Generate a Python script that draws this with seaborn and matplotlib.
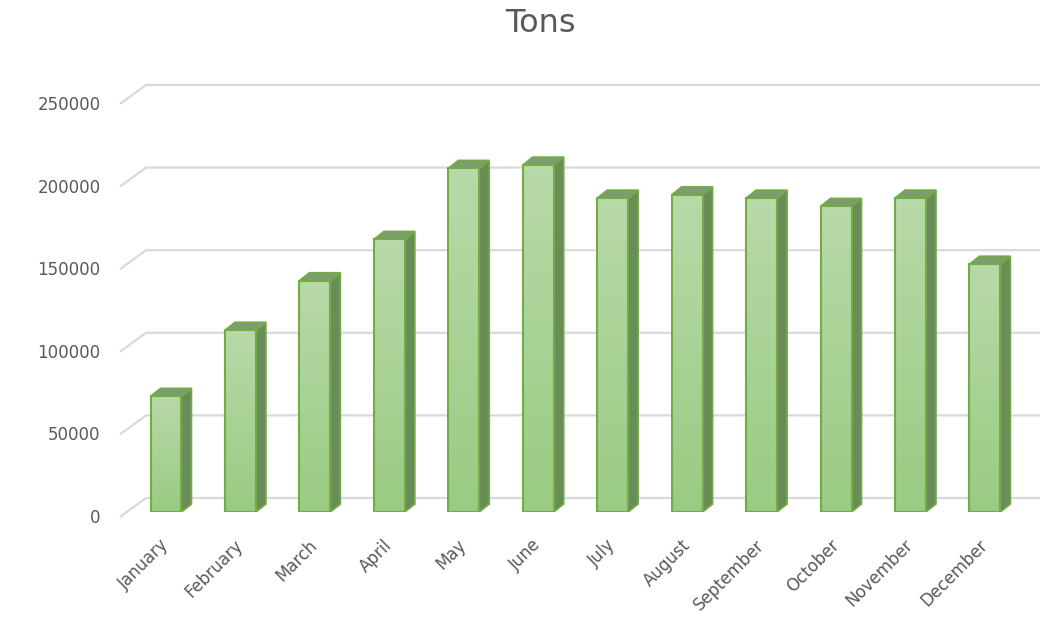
import numpy as np
import pandas as pd
import seaborn as sns
import matplotlib.pyplot as plt
import matplotlib.transforms as mtransforms
from matplotlib.patches import Polygon
from matplotlib.colors import LinearSegmentedColormap

# data
months = ['January', 'February', 'March', 'April', 'May', 'June', 'July',
          'August', 'September', 'October', 'November', 'December']
tons = [70000, 110000, 140000, 165000, 208000, 210000, 190000,
        192000, 190000, 185000, 190000, 150000]
yticks = [0, 50000, 100000, 150000, 200000, 250000]

df = pd.DataFrame({'month': months, 'tons': tons})

sns.set_style('white')
plt.rcParams['font.family'] = ['DejaVu Sans']
text_col = '#595959'

W, H = 1048, 624
fig = plt.figure(figsize=(W / 100, H / 100), dpi=100)
# axes in pixel geometry of the reference
left_px, right_px, top_px, base_px = 120, 1040, 80, 512
ax = fig.add_axes([left_px / W, (H - base_px) / H,
                   (right_px - left_px) / W, (base_px - top_px) / H])

step_px = 74.45          # pixels between categories
first_px = 166           # centre of the first bar
xlim = ((left_px - first_px) / step_px, (right_px - first_px) / step_px)
val_per_px = 50000 / 82.6
ylim = (0, (base_px - top_px) * val_per_px)

def px_x(p):
    return p / step_px

def px_y(p):
    return p * val_per_px

sns.barplot(data=df, x='month', y='tons', width=0.416, color='#a9d18e',
            edgecolor='#70ad47', linewidth=1.5, ax=ax, zorder=3)

# back-plane gridlines with the diagonal front edge
grid_col = '#d9d9d9'
for v in yticks:
    xs = [xlim[0], xlim[0] + px_x(26), xlim[1]]
    ys = [v - px_y(5), v + px_y(14), v + px_y(14)]
    ax.plot(xs, ys, color=grid_col, lw=1.6, zorder=1, clip_on=False,
            solid_capstyle='butt')

# gradient on the front faces, plus the 3D side and top
grad = LinearSegmentedColormap.from_list('g', ['#9bcb83', '#b8d9a8'])
ddx, ddy = px_x(10), px_y(8)
for p in ax.patches:
    x0, w, h = p.get_x(), p.get_width(), p.get_height()
    x1 = x0 + w
    img = ax.imshow(np.linspace(0, 1, 100).reshape(-1, 1), cmap=grad,
                    origin='lower', extent=[x0, x1, 0, h], aspect='auto',
                    zorder=3)
    img.set_clip_path(p)
    p.set_facecolor('none')
    p.set_zorder(4)
    side = Polygon([(x1, 0), (x1 + ddx, ddy), (x1 + ddx, h + ddy), (x1, h)],
                   closed=True, facecolor='#6a8c58', edgecolor='#70ad47',
                   lw=1.2, zorder=2.5)
    top = Polygon([(x0, h), (x0 + ddx, h + ddy), (x1 + ddx, h + ddy), (x1, h)],
                  closed=True, facecolor='#7e9c6e', edgecolor='#70ad47',
                  lw=1.2, zorder=2.6)
    ax.add_patch(side)
    ax.add_patch(top)

ax.set_xlim(*xlim)
ax.set_ylim(*ylim)
ax.set_yticks(yticks)
ax.set_yticklabels([str(v) for v in yticks])
ax.tick_params(axis='y', length=0, pad=14, labelsize=12, labelcolor=text_col)
ax.tick_params(axis='x', length=0, pad=22, labelsize=12, labelcolor=text_col)
shift = mtransforms.ScaledTranslation(0, -4 / 100, fig.dpi_scale_trans)
for lab in ax.get_yticklabels():
    lab.set_transform(lab.get_transform() + shift)
for lab in ax.get_xticklabels():
    lab.set_rotation(45)
    lab.set_ha('right')
    lab.set_va('center')
    lab.set_rotation_mode('anchor')
ax.set_xlabel('')
ax.set_ylabel('')
sns.despine(ax=ax, left=True, bottom=True)

fig.text(540 / W, 1 - 23 / H, 'Tons', ha='center', va='center',
         fontsize=23, color=text_col)

fig.savefig('out.png', dpi=100, facecolor='white')
